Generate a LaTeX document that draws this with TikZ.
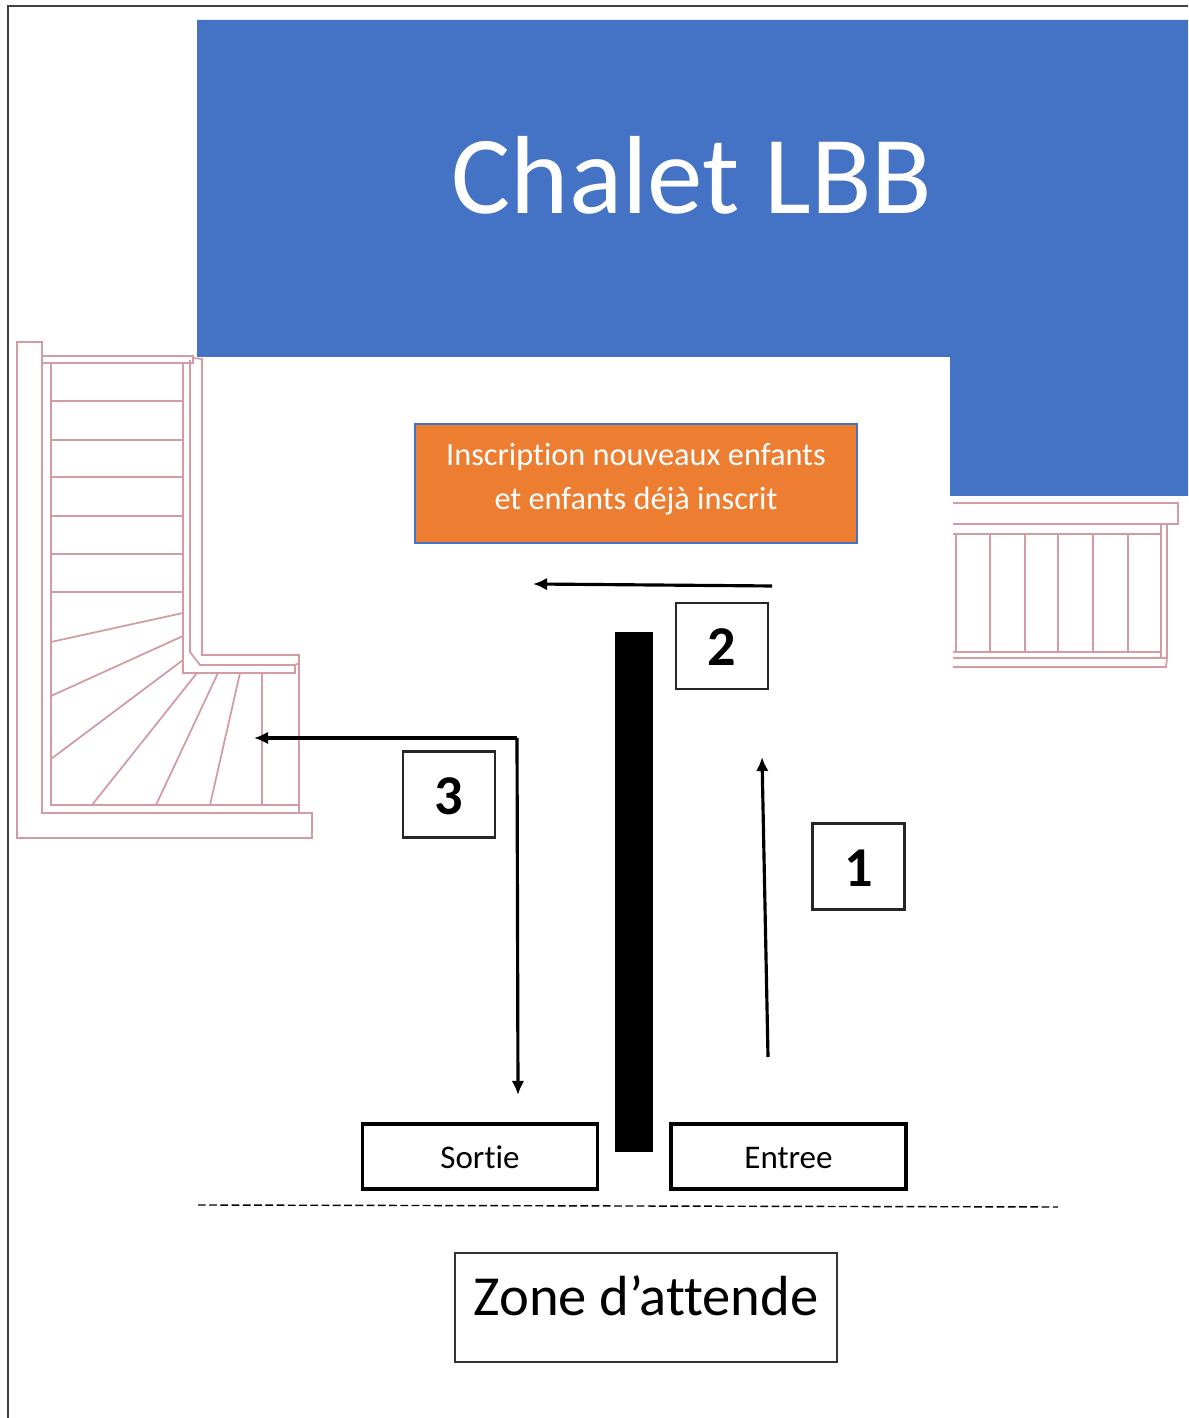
\documentclass[tikz,border=0pt]{standalone}
\usepackage{fontspec}
\setmainfont[Ligatures=NoCommon]{Carlito}
\usetikzlibrary{arrows.meta}
\definecolor{chaletblue}{HTML}{4472C4}
\definecolor{inscorange}{HTML}{ED7D31}
\definecolor{stairred}{HTML}{D49CA2}
\tikzset{
 stairline/.style={stairred,line width=0.5pt},
 flowarrow/.style={line width=0.9pt,-{Latex[length=4pt,width=3.6pt]}},
 stepnum/.style={draw=black!85,line width=0.6pt,minimum width=0.92cm,minimum height=0.86cm,inner sep=0pt,text height=0.42cm,text depth=0.02cm,font=\fontsize{16}{18}\selectfont\bfseries},
 doorbox/.style={draw,line width=0.9pt,minimum width=2.35cm,minimum height=0.65cm,inner sep=0pt,text height=0.30cm,text depth=0.06cm,font=\fontsize{9.4}{10}\selectfont},
}
\begin{document}
\begin{tikzpicture}
\useasboundingbox (0,0) rectangle (11.88,14.18);
% frame
\draw[black!75,line width=0.5pt] (0.08,0) -- (0.08,14.12) -- (11.88,14.12);
% chalet
\fill[chaletblue] (1.97,13.98) -- (11.88,13.98) -- (11.88,9.22) -- (9.50,9.22) -- (9.50,10.61) -- (1.97,10.61) -- cycle;
\node[text=white,inner sep=0pt,font=\fontsize{31.6}{33}\selectfont] (chalet) at (6.92,12.43) {Chalet LBB};
% left stairs
\draw[stairline] (0.17,10.76) -- (0.42,10.76) -- (0.42,6.05) -- (3.12,6.05) -- (3.12,5.80) -- (0.17,5.80) -- cycle;
\draw[stairline] (0.42,10.62) -- (1.93,10.62) -- (1.93,10.55) -- (0.42,10.55);
\draw[stairline] (0.51,10.55) -- (0.51,6.13) -- (2.99,6.13);
\draw[stairline] (2.99,7.63) -- (2.99,6.05);
\draw[stairline] (1.83,10.55) -- (1.83,7.45) -- (2.95,7.45) -- (2.95,7.53);
\draw[stairline] (1.90,10.58) -- (1.90,7.66) -- (2.00,7.53) -- (2.95,7.53);
\draw[stairline] (1.93,10.60) -- (2.02,10.59) -- (2.02,7.63) -- (2.99,7.63) -- (2.99,7.55) -- (2.95,7.53);
\draw[stairline] (0.51,10.17) -- (1.83,10.17);
\draw[stairline] (0.51,9.78) -- (1.83,9.78);
\draw[stairline] (0.51,9.41) -- (1.83,9.41);
\draw[stairline] (0.51,9.02) -- (1.83,9.02);
\draw[stairline] (0.51,8.64) -- (1.83,8.64);
\draw[stairline] (0.51,8.26) -- (1.83,8.26);
\draw[stairline] (0.51,7.76) -- (1.83,8.05);
\draw[stairline] (0.51,7.22) -- (1.83,7.82);
\draw[stairline] (0.51,6.59) -- (1.83,7.58);
\draw[stairline] (0.92,6.13) -- (1.97,7.45);
\draw[stairline] (1.56,6.13) -- (2.18,7.45);
\draw[stairline] (2.10,6.13) -- (2.40,7.45);
\draw[stairline] (2.62,6.13) -- (2.62,7.45);
% right railing
\draw[stairline] (9.53,9.15) -- (11.78,9.15) -- (11.78,8.94) -- (9.53,8.94);
\draw[stairline] (9.53,8.84) -- (11.61,8.84);
\draw[stairline] (9.53,7.66) -- (11.61,7.66);
\draw[stairline] (9.53,7.60) -- (11.67,7.60);
\draw[stairline] (9.53,7.51) -- (11.66,7.51) -- (11.67,7.60) -- (11.67,8.94);
\draw[stairline] (9.56,8.84) -- (9.56,7.66);
\draw[stairline] (9.90,8.84) -- (9.90,7.66);
\draw[stairline] (10.25,8.84) -- (10.25,7.66);
\draw[stairline] (10.58,8.84) -- (10.58,7.66);
\draw[stairline] (10.93,8.84) -- (10.93,7.66);
\draw[stairline] (11.28,8.84) -- (11.28,7.66);
\draw[stairline] (11.61,8.94) -- (11.61,7.60);
% inscription
\node[draw=chaletblue,fill=inscorange,text=white,line width=0.5pt,minimum width=4.42cm,minimum height=1.19cm,inner sep=0pt,align=center,font=\fontsize{9.2}{12.3}\selectfont] (inscription) at (6.36,9.345) {Inscription nouveaux enfants\\et enfants déjà inscrit\rule[-0.14cm]{0pt}{0.14cm}};
% barrier
\node[fill=black,minimum width=0.38cm,minimum height=5.20cm,inner sep=0pt] (barrier) at (6.34,5.26) {};
% steps
\node[stepnum] (stepone) at (8.585,5.515) {1};
\node[stepnum] (steptwo) at (7.22,7.72) {2};
\node[stepnum] (stepthree) at (4.49,6.235) {3};
% doors
\node[doorbox] (sortie) at (4.80,2.615) {Sortie};
\node[doorbox] (entree) at (7.885,2.615) {Entree};
\coordinate (limitw) at (1.98,2.13);
\coordinate (limite) at (10.58,2.11);
\draw[dash pattern=on 2.2pt off 1pt,line width=0.4pt] (limitw) -- (limite);
\node[draw=black!80,line width=0.5pt,minimum width=3.82cm,minimum height=1.09cm,inner sep=0pt,text height=0.38cm,text depth=0.21cm,font=\fontsize{16.1}{18}\selectfont] (zone) at (6.46,1.105) {Zone d’attende};
% arrows
\coordinate (onestart) at (7.68,3.61);
\coordinate (oneend) at (7.62,6.61);
\coordinate (twostart) at (7.72,8.32);
\coordinate (twoend) at (5.33,8.34);
\coordinate (threecorner) at (5.17,6.80);
\coordinate (threeleft) at (2.54,6.80);
\coordinate (threedown) at (5.18,3.23);
\draw[flowarrow] (onestart) -- (oneend);
\draw[flowarrow] (twostart) -- (twoend);
\draw[flowarrow] (threecorner) -- (threeleft);
\draw[flowarrow] (threecorner) -- (threedown);
\end{tikzpicture}
\end{document}
